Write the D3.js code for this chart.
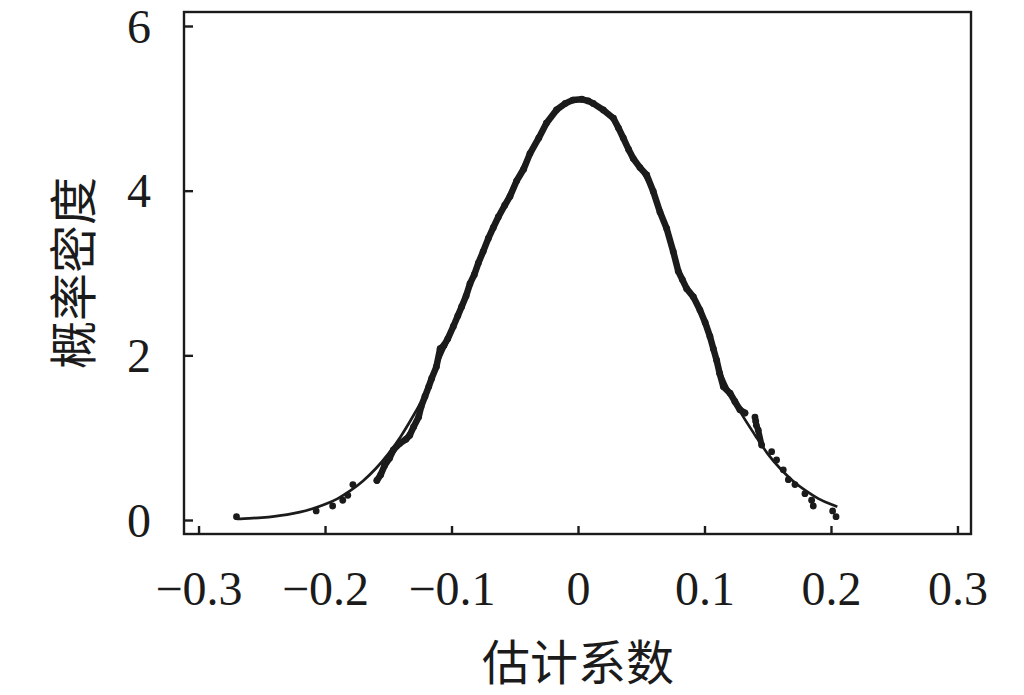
<!DOCTYPE html>
<html>
<head>
<meta charset="utf-8">
<script src="https://cdn.jsdelivr.net/npm/d3@7"></script>
<style>
  html, body { margin: 0; padding: 0; background: #fff; }
  svg { display: block; }
</style>
</head>
<body>
<svg id="chart" width="1024" height="695"></svg>
<script>
// ---- data ----
const xTicks = [-0.3, -0.2, -0.1, 0, 0.1, 0.2, 0.3];
const xTickLabels = ["\u22120.3", "\u22120.2", "\u22120.1", "0", "0.1", "0.2", "0.3"];
const yTicks = [0, 2, 4, 6];
const yTickLabels = ["0", "2", "4", "6"];
const xTitle = "估计系数";
const yTitle = "概率密度";

// fitted (smooth) density curve
const fitX = [-0.27, -0.26, -0.25, -0.24, -0.23, -0.22, -0.21, -0.20, -0.19, -0.18,
              -0.17, -0.16, -0.15, -0.14, -0.13, -0.12, -0.11, -0.10, -0.09, -0.08,
              -0.07, -0.06, -0.05, -0.04, -0.03, -0.02, -0.01, 0.00, 0.01, 0.02,
              0.03, 0.04, 0.05, 0.06, 0.07, 0.08, 0.09, 0.10, 0.11, 0.12,
              0.13, 0.14, 0.15, 0.16, 0.17, 0.18, 0.19, 0.20, 0.205];
const fitY = [0.013, 0.020, 0.030, 0.045, 0.066, 0.096, 0.136, 0.19, 0.26, 0.356,
              0.474, 0.622, 0.803, 1.018, 1.272, 1.55, 1.93, 2.27, 2.64, 3.05,
              3.44, 3.78, 4.10, 4.40, 4.69, 4.92, 5.06, 5.11, 5.075, 4.97,
              4.81, 4.50, 4.25, 3.95, 3.53, 3.01, 2.72, 2.40, 1.90, 1.55,
              1.27, 1.03, 0.803, 0.622, 0.474, 0.356, 0.26, 0.19, 0.161];

// empirical density points
const empX = [-0.270, -0.207, -0.194, -0.186, -0.182, -0.178, -0.159, -0.156, -0.153, -0.149,
              -0.146, -0.141, -0.136, -0.133, -0.130, -0.126, -0.124, -0.121, -0.118, -0.1157,
              -0.112, -0.109, -0.106, -0.103, -0.0986, -0.095, -0.092, -0.0885, -0.0854, -0.082,
              -0.0788, -0.075, -0.0709, -0.067, -0.063, -0.058, -0.0538, -0.0485, -0.043, -0.038,
              -0.031, -0.025, -0.017, -0.010, -0.004, 0.003, 0.008, 0.012, 0.020, 0.028,
              0.032, 0.0358, 0.040, 0.0437, 0.049, 0.0543, 0.0595, 0.0648, 0.0701, 0.0753,
              0.0793, 0.0825, 0.0859, 0.0912, 0.0964, 0.1005, 0.1043, 0.107, 0.1096, 0.112,
              0.1149, 0.1202, 0.124, 0.128, 0.132, 0.1399, 0.1405, 0.141, 0.1425, 0.1452,
              0.1531, 0.157, 0.1623, 0.1663, 0.1715, 0.1794, 0.1847, 0.186, 0.2013, 0.204];
const empY = [0.04, 0.11, 0.17, 0.24, 0.30, 0.43, 0.48, 0.55, 0.66, 0.75,
              0.85, 0.93, 0.98, 1.03, 1.13, 1.25, 1.38, 1.50, 1.62, 1.72,
              1.86, 2.08, 2.12, 2.20, 2.35, 2.48, 2.59, 2.72, 2.87, 2.98,
              3.12, 3.26, 3.42, 3.55, 3.68, 3.82, 3.93, 4.12, 4.26, 4.45,
              4.64, 4.82, 4.98, 5.06, 5.10, 5.11, 5.09, 5.06, 4.98, 4.88,
              4.76, 4.64, 4.50, 4.39, 4.28, 4.19, 3.99, 3.74, 3.54, 3.26,
              3.02, 2.92, 2.81, 2.71, 2.55, 2.40, 2.23, 2.08, 1.94, 1.78,
              1.62, 1.54, 1.44, 1.34, 1.30, 1.25, 1.20, 1.15, 1.09, 0.91,
              0.83, 0.73, 0.61, 0.49, 0.43, 0.32, 0.24, 0.17, 0.11, 0.04];

// ---- drawing ----
(function () {
const ink = "#1b1b1b";
const svg = d3.select("#chart");
const mLeft = 184, mRight = 971, mTop = 12, mBottom = 534;

const x = d3.scaleLinear().domain([-0.3115, 0.3107]).range([mLeft, mRight]);
const y = d3.scaleLinear().domain([-0.17, 6.17]).range([mBottom, mTop]);

// frame
svg.append("rect")
  .attr("x", mLeft).attr("y", mTop)
  .attr("width", mRight - mLeft).attr("height", mBottom - mTop)
  .attr("fill", "none").attr("stroke", ink).attr("stroke-width", 2.4);

const xAxis = svg.append("g")
  .attr("transform", `translate(0,${mBottom})`)
  .call(d3.axisBottom(x).tickValues(xTicks).tickSizeInner(-8).tickSizeOuter(0)
        .tickFormat((d, i) => xTickLabels[i]));
xAxis.select(".domain").remove();
xAxis.selectAll(".tick line").attr("stroke", ink).attr("stroke-width", 2.4);
xAxis.selectAll(".tick text")
  .attr("fill", ink)
  .attr("font-family", "'Liberation Serif', 'Times New Roman', serif")
  .attr("font-size", 48)
  .attr("y", 71).attr("dy", 0);

const yAxis = svg.append("g")
  .attr("transform", `translate(${mLeft},0)`)
  .call(d3.axisLeft(y).tickValues(yTicks).tickSizeInner(-9).tickSizeOuter(0)
        .tickFormat((d, i) => yTickLabels[i]));
yAxis.select(".domain").remove();
yAxis.selectAll(".tick line").attr("stroke", ink).attr("stroke-width", 2.4);
yAxis.selectAll(".tick text")
  .attr("fill", ink)
  .attr("font-family", "'Liberation Serif', 'Times New Roman', serif")
  .attr("font-size", 48)
  .attr("x", -33).attr("dy", "0.34em");

// fitted curve
const fitData = fitX.map((v, i) => ({x: v, y: fitY[i]}));
svg.append("path")
  .datum(fitData)
  .attr("fill", "none").attr("stroke", ink).attr("stroke-width", 2.7)
  .attr("stroke-linejoin", "round")
  .attr("d", d3.line().curve(d3.curveMonotoneX).x(d => x(d.x)).y(d => y(d.y)));

// empirical points: dense band drawn as thick connected dots
const empData = empX.map((v, i) => ({x: v, y: empY[i]}));
svg.append("path")
  .datum(empData)
  .attr("fill", "none").attr("stroke", ink).attr("stroke-width", 6.5)
  .attr("stroke-linejoin", "round").attr("stroke-linecap", "round")
  .attr("d", d3.line().defined(d => d.x >= -0.16 && d.x <= 0.133)
        .x(d => x(d.x)).y(d => y(d.y)));
svg.append("path")
  .datum(empData)
  .attr("fill", "none").attr("stroke", ink).attr("stroke-width", 6)
  .attr("stroke-linejoin", "round").attr("stroke-linecap", "round")
  .attr("d", d3.line().defined(d => d.x >= 0.139 && d.x <= 0.146)
        .x(d => x(d.x)).y(d => y(d.y)));
svg.append("g").selectAll("circle")
  .data(empData).join("circle")
  .attr("cx", d => x(d.x)).attr("cy", d => y(d.y))
  .attr("r", 3.4).attr("fill", ink);

// axis titles
svg.append("text")
  .attr("x", 578).attr("y", 659)
  .attr("text-anchor", "middle").attr("dominant-baseline", "central")
  .attr("font-family", "'Noto Sans CJK SC', sans-serif")
  .attr("font-size", 48).attr("fill", ink)
  .text(xTitle);
svg.append("text")
  .attr("transform", "translate(70,273) rotate(-90)")
  .attr("text-anchor", "middle").attr("dominant-baseline", "central")
  .attr("font-family", "'Noto Sans CJK SC', sans-serif")
  .attr("font-size", 48).attr("fill", ink)
  .text(yTitle);
})();
</script>
</body>
</html>
